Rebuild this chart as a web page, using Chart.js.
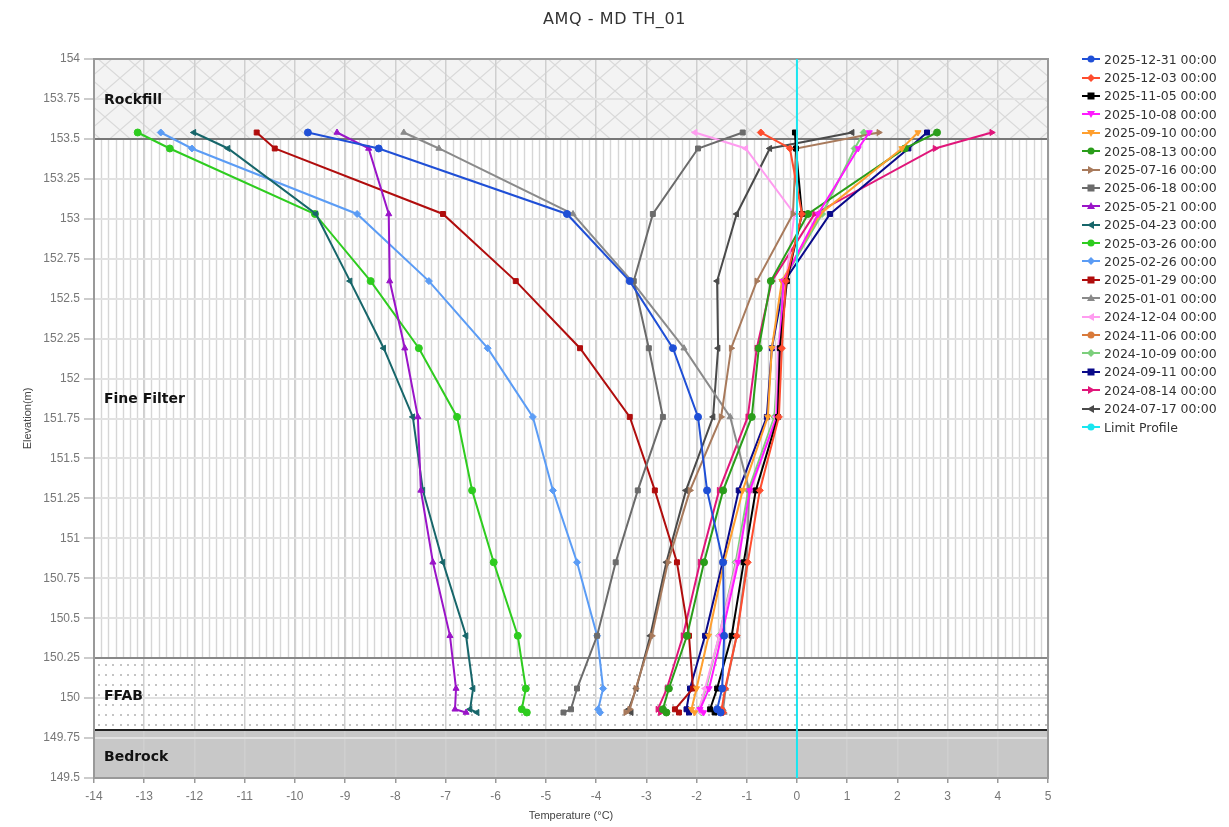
<!DOCTYPE html>
<html><head><meta charset="utf-8">
<script src="https://cdn.jsdelivr.net/npm/chart.js@4.4.1/dist/chart.umd.min.js"></script>
<style>
html,body{margin:0;padding:0;background:#fff;}
#wrap{position:relative;width:1229px;height:827px;}
canvas{position:absolute;left:0;top:0;}
#title{position:absolute;left:0;width:1229px;top:9px;text-align:center;font-family:"DejaVu Sans",sans-serif;font-size:16px;color:#333;letter-spacing:0.6px;}
#legend{position:absolute;left:1082px;top:50px;font-family:"DejaVu Sans",sans-serif;font-size:12.5px;color:#333;}
.li{height:18.4px;display:flex;align-items:center;white-space:nowrap;}
.li svg{margin-right:4px;}
</style></head><body>
<div id="wrap"><canvas id="c" width="1229" height="827"></canvas><div id="title">AMQ - MD TH_01</div><div id="legend"></div></div>
<script>
// ---- data ----
const elevations = [153.54, 153.44, 153.03, 152.61, 152.19, 151.76, 151.30, 150.85, 150.39, 150.06, 149.93, 149.91];
const seriesNames = ["2025-12-31 00:00","2025-12-03 00:00","2025-11-05 00:00","2025-10-08 00:00","2025-09-10 00:00","2025-08-13 00:00","2025-07-16 00:00","2025-06-18 00:00","2025-05-21 00:00","2025-04-23 00:00","2025-03-26 00:00","2025-02-26 00:00","2025-01-29 00:00","2025-01-01 00:00","2024-12-04 00:00","2024-11-06 00:00","2024-10-09 00:00","2024-09-11 00:00","2024-08-14 00:00","2024-07-17 00:00"];
const t_20251231 = [-9.74,-8.33,-4.58,-3.33,-2.47,-1.97,-1.79,-1.47,-1.45,-1.49,-1.59,-1.52];
const t_20251203 = [-0.72,-0.14,0.10,-0.22,-0.30,-0.36,-0.74,-0.98,-1.20,-1.43,-1.50,-1.47];
const t_20251105 = [-0.04,-0.02,0.10,-0.20,-0.34,-0.38,-0.82,-1.06,-1.30,-1.59,-1.73,-1.64];
const t_20251008 = [1.44,1.22,0.42,-0.27,-0.34,-0.40,-0.94,-1.17,-1.50,-1.75,-1.93,-1.86];
const t_20250910 = [2.41,2.09,0.46,-0.30,-0.50,-0.58,-1.08,-1.45,-1.76,-2.00,-2.10,-2.04];
const t_20250813 = [2.79,2.15,0.22,-0.52,-0.76,-0.90,-1.47,-1.85,-2.19,-2.55,-2.67,-2.60];
const t_20250716 = [1.63,-0.02,-0.08,-0.80,-1.31,-1.51,-2.13,-2.57,-2.89,-3.21,-3.33,-3.41];
const t_20250618 = [-1.08,-1.97,-2.87,-3.25,-2.95,-2.67,-3.17,-3.61,-3.98,-4.38,-4.50,-4.65];
const t_20250521 = [-9.16,-8.53,-8.13,-8.11,-7.81,-7.55,-7.49,-7.25,-6.91,-6.79,-6.81,-6.59];
const t_20250423 = [-12.01,-11.33,-9.58,-8.90,-8.23,-7.65,-7.45,-7.05,-6.59,-6.45,-6.51,-6.37];
const t_20250326 = [-13.13,-12.49,-9.60,-8.49,-7.53,-6.77,-6.47,-6.04,-5.56,-5.40,-5.48,-5.38];
const t_20250226 = [-12.67,-12.05,-8.76,-7.33,-6.16,-5.26,-4.86,-4.38,-3.98,-3.86,-3.96,-3.92];
const t_20250129 = [-10.76,-10.40,-7.05,-5.60,-4.32,-3.33,-2.83,-2.39,-2.15,-2.07,-2.43,-2.35];
const t_20250101 = [-7.83,-7.13,-4.46,-3.29,-2.25,-1.33,-0.95,-1.00,-1.20,-1.42,-1.47,-1.45];
const t_20241204 = [-2.03,-1.02,-0.05,-0.22,-0.38,-0.42,-0.92,-1.20,-1.55,-1.83,-1.95,-1.90];
const t_20241106 = [];
const t_20241009 = [1.33,1.15,0.50,-0.28,-0.36,-0.45,-0.97,-1.22,-1.55,-1.81,-1.95,-1.90];
const t_20240911 = [2.59,2.22,0.66,-0.25,-0.50,-0.60,-1.16,-1.48,-1.83,-2.13,-2.20,-2.15];
const t_20240814 = [3.88,2.75,0.35,-0.50,-0.80,-0.98,-1.55,-1.93,-2.27,-2.59,-2.77,-2.72];
const t_20240717 = [1.10,-0.54,-1.20,-1.59,-1.57,-1.67,-2.21,-2.60,-2.92,-3.20,-3.35,-3.30];
const limitName = "Limit Profile";
const limitElevations = [149.5, 154];
const limitTemps = [0, 0];
// soil layers (name, top elevation, bottom elevation)
const layerNames = ["Rockfill","Fine Filter","FFAB","Bedrock"];
const layerTops = [154, 153.5, 150.25, 149.8];
const layerBottoms = [153.5, 150.25, 149.8, 149.5];

// ---- styles ----
const temps = [t_20251231,t_20251203,t_20251105,t_20251008,t_20250910,t_20250813,t_20250716,t_20250618,t_20250521,t_20250423,t_20250326,t_20250226,t_20250129,t_20250101,t_20241204,t_20241106,t_20241009,t_20240911,t_20240814,t_20240717];
const colors = ["#1f4fd6","#ff4d2e","#000000","#ff1aff","#ff9f2e","#2a9d1a","#a87a5c","#6b6b6b","#9a14c8","#17666a","#2ecc1f","#5b9cf5","#b00d0d","#8a8a8a","#ff9cf0","#d97a3a","#7ccf7c","#0a0a8a","#e0167a","#4a4a4a"];
const shapes = ["circle","rectRot","rect","triangle","triangle","circle","triangle","rect","triangle","triangle","circle","rectRot","rect","triangle","triangle","circle","rectRot","rect","triangle","triangle"];
const rots = [0,0,0,180,180,0,90,0,0,270,0,0,0,0,270,0,0,0,90,270];

const datasets = temps.map((arr,i)=>({
  label: seriesNames[i],
  data: arr.map((t,k)=>({x:t, y:elevations[k]})),
  borderColor: colors[i], backgroundColor: colors[i],
  pointStyle: shapes[i], pointRotation: rots[i],
  pointRadius: 3.5, pointBorderWidth:1,
  borderWidth: 2, showLine: true, tension: 0
}));
datasets.unshift({
  label: limitName,
  data: limitTemps.map((t,k)=>({x:t,y:limitElevations[k]})),
  borderColor:"#19e6f0", backgroundColor:"#19e6f0", pointRadius:0, borderWidth:2, showLine:true
});

function makePattern(ctx){
  const c = document.createElement('canvas');
  const g = c.getContext('2d');
  c.width=30; c.height=26;
  g.fillStyle='#f3f3f3'; g.fillRect(0,0,30,26);
  g.strokeStyle='#d9d9d9'; g.lineWidth=1.2;
  g.beginPath();
  g.moveTo(0,0); g.lineTo(15,13); g.lineTo(30,0);
  g.moveTo(0,26); g.lineTo(15,13); g.lineTo(30,26);
  g.stroke();
  return ctx.createPattern(c,'repeat');
}

const bgPlugin = {
  id:'bg',
  beforeDraw(chart){
    const {ctx, chartArea:a, scales:{x,y}} = chart;
    ctx.save();
    let yt = y.getPixelForValue(layerTops[0]), yb = y.getPixelForValue(layerBottoms[0]);
    ctx.fillStyle = makePattern(ctx);
    ctx.fillRect(a.left, yt, a.right-a.left, yb-yt);
    yt = y.getPixelForValue(layerTops[1]); yb = y.getPixelForValue(layerBottoms[1]);
    ctx.fillStyle='#ffffff'; ctx.fillRect(a.left, yt, a.right-a.left, yb-yt);
    const step = (x.getPixelForValue(1)-x.getPixelForValue(0))/7;
    ctx.strokeStyle='#d6d6d6'; ctx.lineWidth=1.4;
    ctx.beginPath();
    for(let px=a.left+step; px<a.right; px+=step){ ctx.moveTo(Math.round(px)+0.5, yt); ctx.lineTo(Math.round(px)+0.5, yb); }
    ctx.stroke();
    yt = y.getPixelForValue(layerTops[2]); yb = y.getPixelForValue(layerBottoms[2]);
    ctx.fillStyle='#ffffff'; ctx.fillRect(a.left, yt, a.right-a.left, yb-yt);
    ctx.fillStyle='#c4c4c4';
    for(let py=yt+6; py<yb-2; py+=10){
      for(let px=a.left+4; px<a.right; px+=step){ ctx.fillRect(Math.round(px), Math.round(py), 2, 2); }
    }
    yt = y.getPixelForValue(layerTops[3]); yb = y.getPixelForValue(layerBottoms[3]);
    ctx.fillStyle='#c8c8c8'; ctx.fillRect(a.left, yt, a.right-a.left, yb-yt);
    ctx.restore();
  },
  beforeDatasetsDraw(chart){
    const {ctx, chartArea:a, scales:{x,y}} = chart;
    ctx.save();
    const lineCols = ['#777','#888','#222'];
    [layerBottoms[0], layerBottoms[1], layerBottoms[2]].forEach((v,i)=>{
      const py = Math.round(y.getPixelForValue(v));
      ctx.strokeStyle=lineCols[i]; ctx.lineWidth=2;
      ctx.beginPath(); ctx.moveTo(a.left,py); ctx.lineTo(a.right,py); ctx.stroke();
    });
    ctx.strokeStyle='#999'; ctx.lineWidth=2;
    ctx.strokeRect(a.left, a.top, a.right-a.left, a.bottom-a.top);
    ctx.fillStyle='#111'; ctx.font='bold 14px "DejaVu Sans", sans-serif';
    ctx.textBaseline='middle'; ctx.textAlign='left';
    const labelY = [153.74, 151.87, 150.01, 149.63];
    layerNames.forEach((n,i)=>{ ctx.fillText(n, a.left+10, y.getPixelForValue(labelY[i])); });
    ctx.restore();
  }
};

const tickFont = {family:'"Liberation Sans Narrow","Liberation Sans",sans-serif', size:12};
new Chart(document.getElementById('c'), {
  type:'scatter',
  data:{datasets},
  options:{
    responsive:false, animation:false,
    layout:{padding:{left:0,right:181,top:59,bottom:0}},
    plugins:{ legend:{display:false}, tooltip:{enabled:false}, title:{display:false} },
    scales:{
      x:{type:'linear', min:-14, max:5,
        ticks:{stepSize:1, color:'#777', font:tickFont, padding:6},
        grid:{color:'#cfcfcf', lineWidth:1.5, tickLength:5, tickColor:'#999'},
        border:{color:'#444', width:2},
        title:{display:true, text:'Temperature (°C)', color:'#444', font:{family:'"Liberation Sans Narrow","Liberation Sans",sans-serif', size:11}, padding:{top:2,bottom:4}},
        afterFit(s){ s.height = 49; }
      },
      y:{type:'linear', min:149.5, max:154,
        ticks:{stepSize:0.25, color:'#777', font:tickFont, padding:4,
          callback:(v)=>String(parseFloat(Number(v).toFixed(2)))},
        grid:{color:'#e2e2e2', lineWidth:2, tickLength:10, tickColor:'#ccc'},
        border:{color:'#666', width:2},
        title:{display:true, text:'Elevation(m)', color:'#444', font:{family:'"Liberation Sans Narrow","Liberation Sans",sans-serif', size:11}, padding:{top:21,bottom:0}},
        afterFit(s){ s.width = 94; }
      }
    }
  },
  plugins:[bgPlugin]
});

// ---- HTML legend ----
function markerSvg(color, shape, rot){
  let m='';
  const cx=9, cy=5;
  if(shape==='circle') m=`<circle cx="${cx}" cy="${cy}" r="3.5" fill="${color}"/>`;
  else if(shape==='rect') m=`<rect x="${cx-3.5}" y="${cy-3.5}" width="7" height="7" fill="${color}"/>`;
  else if(shape==='rectRot') m=`<polygon points="${cx},${cy-4} ${cx+4},${cy} ${cx},${cy+4} ${cx-4},${cy}" fill="${color}"/>`;
  else if(shape==='triangle') m=`<polygon points="${cx},${cy-4} ${cx+4},${cy+3} ${cx-4},${cy+3}" fill="${color}" transform="rotate(${rot} ${cx} ${cy})"/>`;
  return `<svg width="18" height="10"><line x1="0" y1="5" x2="18" y2="5" stroke="${color}" stroke-width="2"/>${m}</svg>`;
}
const lg = document.getElementById('legend');
let html='';
seriesNames.forEach((n,i)=>{ html += `<div class="li">${markerSvg(colors[i],shapes[i],rots[i])}<span>${n}</span></div>`; });
html += `<div class="li">${markerSvg('#19e6f0','circle',0)}<span>${limitName}</span></div>`;
lg.innerHTML = html;
</script>
</body></html>
